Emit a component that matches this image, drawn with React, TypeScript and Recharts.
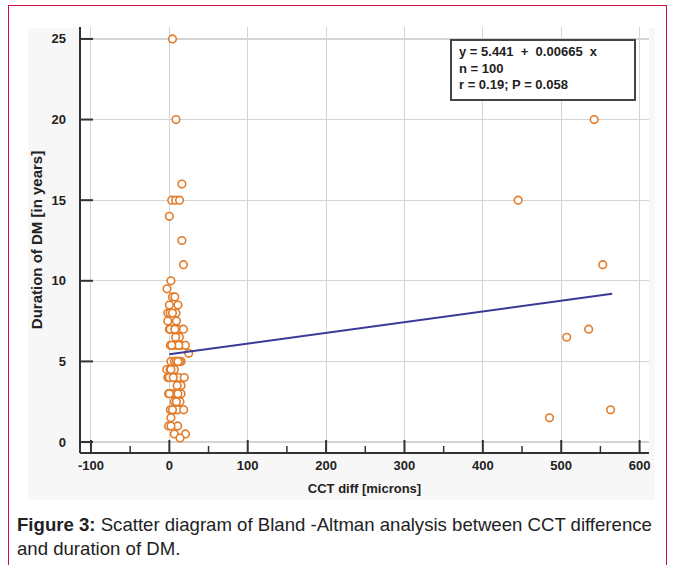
import React from 'react';
import { ScatterChart, Scatter, XAxis, YAxis, ReferenceLine } from 'recharts';

// CCT difference [microns] and duration of DM [years] for each subject
const cctDiff = [
  4, 8.5, 16, 3, 8, 13, 0, 16, 18, 2, -3,
  4, 7, 0, 11, -2, 1, 8.5, 4, -2, 9,
  0, 4, 11, 18, 1, 7, 12.8, 8,
  1.3, 6.4, 10.7, 15, 20.5, 12, 3, 24.7,
  2, 6.4, 15, 13, 9, 11, -3.3, 6.4, 1, 2,
  -2, 2, 8.5, 12, 19, 0, 5, 15, 10,
  -1, 3.4, 8.5, 15, 0, 11, 6.4, 13.6, 9,
  1.3, 7.7, 10.7, 18.3, 4, 2, -1, 10.7, 2,
  6.4, 20.5, 13.6,
  445, 542, 553, 535, 507, 485, 563,
];
const durationDM = [
  25, 20, 16, 15, 15, 15, 14, 12.5, 11, 10, 9.5,
  9, 9, 8.5, 8.5, 8, 8, 8, 8, 7.5, 7.5,
  7, 7, 7, 7, 7, 7, 6.5, 6.5,
  6, 6, 6, 6, 6, 6, 6, 5.5,
  5, 5, 5, 5, 5, 5, 4.5, 4.5, 4.5, 4.5,
  4, 4, 4, 4, 4, 4, 4, 3.5, 3.5,
  3, 3, 3, 3, 3, 3, 2.5, 2.5, 2.5,
  2, 2, 2, 2, 2, 1.5, 1, 1, 1,
  0.5, 0.5, 0.25,
  15, 20, 11, 7, 6.5, 1.5, 2,
];
// regression line end points (y = 5.441 + 0.00665 x)
const fitX = [0, 565];
const fitY = [5.441, 9.2];

const xTicks = [-100, -50, 0, 50, 100, 150, 200, 250, 300, 350, 400, 450, 500, 550, 600];
const xGridTicks = [-100, 0, 100, 200, 300, 400, 500, 600];
const yTicks = [0, 5, 10, 15, 20, 25];
const xDomain = [-114, 612];
const yDomain = [-0.68, 25.74];

const points = cctDiff.map((x, i) => ({ x, y: durationDM[i] }));
const fitLine = fitX.map((x, i) => ({ x, y: fitY[i] }));

const FONT = "'Liberation Sans', Arial, Helvetica, sans-serif";
const AXIS = '#333333';
const GRID = '#d4d4d4';
const X_MARGIN = 12;
const Y_MARGIN = 14;

const YTick = (props: any) => {
  const { x, y, payload } = props;
  const ax = x + Y_MARGIN;
  return (
    <g>
      <line x1={ax} y1={y} x2={ax + 13} y2={y} stroke={AXIS} strokeWidth={2} />
      <text x={x} y={y} textAnchor="end" dominantBaseline="central" fontFamily={FONT}
        fontWeight="bold" fontSize={13} fill="#222">{payload.value}</text>
    </g>
  );
};

const XTick = (props: any) => {
  const { x, y, payload } = props;
  const ay = y - X_MARGIN;
  const major = payload.value % 100 === 0;
  return (
    <g>
      <line x1={x} y1={ay} x2={x} y2={ay - (major ? 13 : 7)} stroke={AXIS} strokeWidth={major ? 2 : 1.5} />
      {major && (
        <text x={x} y={y} textAnchor="middle" dominantBaseline="central" fontFamily={FONT}
          fontWeight="bold" fontSize={13} fill="#222">{payload.value}</text>
      )}
    </g>
  );
};

const YLabel = (props: any) => {
  const vb = props.viewBox || {};
  const cx = vb.x + 6;
  const cy = vb.y + vb.height / 2;
  return (
    <text x={cx} y={cy} transform={`rotate(-90 ${cx} ${cy})`} textAnchor="middle"
      dominantBaseline="central" fontFamily={FONT} fontWeight="bold" fontSize={15} fill="#222">
      Duration of DM [in years]
    </text>
  );
};

const Ring = (props: any) => {
  const { cx, cy } = props;
  if (cx == null || cy == null) return <g />;
  return <circle cx={cx} cy={cy} r={3.8} fill="#ffffff" stroke="#e27c2a" strokeWidth={1.6} />;
};

export default function App() {
  return (
    <div style={{ position: 'absolute', left: 0, top: 0, width: 675, height: 565, overflow: 'hidden', background: '#fff' }}>
      <div style={{ position: 'absolute', left: 8, top: 5, width: 657, height: 620, border: '1.5px solid #c8123c' }} />
      <div style={{ position: 'absolute', left: 28, top: 28, width: 627, height: 472, background: '#f7f7f7' }} />
      <div style={{ position: 'absolute', left: 80, top: 27, width: 569, height: 426, background: '#ffffff' }} />
      <div style={{ position: 'absolute', left: 0, top: 0 }}>
        <ScatterChart width={675} height={565} margin={{ top: 27, right: 26, bottom: 70, left: 30 }}>
          {xGridTicks.map((v) => (
            <ReferenceLine key={'gx' + v} x={v} stroke={GRID} strokeWidth={1} shapeRendering="crispEdges" />
          ))}
          {yTicks.map((v) => (
            <ReferenceLine key={'gy' + v} y={v} stroke={GRID} strokeWidth={1.2} shapeRendering="crispEdges" />
          ))}
          <XAxis type="number" dataKey="x" domain={xDomain} ticks={xTicks} interval={0} allowDataOverflow
            height={42} tickSize={0} tickMargin={X_MARGIN} tick={<XTick />}
            axisLine={{ stroke: AXIS, strokeWidth: 2 }} tickLine={false}
            label={{ value: 'CCT diff [microns]', position: 'insideBottom', offset: 2, fontFamily: FONT, fontWeight: 'bold', fontSize: 13, fill: '#222' }} />
          <YAxis type="number" dataKey="y" domain={yDomain} ticks={yTicks} interval={0} allowDataOverflow
            width={50} tickSize={0} tickMargin={Y_MARGIN} tick={<YTick />}
            axisLine={{ stroke: AXIS, strokeWidth: 2 }} tickLine={false}
            label={<YLabel />} />
          <Scatter data={points} shape={<Ring />} isAnimationActive={false} />
          <Scatter data={fitLine} line={{ stroke: '#3a3a96', strokeWidth: 2 }} shape={() => <g />} isAnimationActive={false} />
        </ScatterChart>
      </div>
      <div style={{
        position: 'absolute', left: 450, top: 39, width: 175, height: 55, border: '2px solid #444',
        background: '#fff', fontFamily: FONT, fontWeight: 'bold', fontSize: 13, lineHeight: '16.5px',
        color: '#222', padding: '3px 0 0 7px', boxSizing: 'content-box', whiteSpace: 'pre',
      }}>
        <div>{'y = 5.441  +  0.00665  x'}</div>
        <div>{'n = 100'}</div>
        <div>{'r = 0.19; P = 0.058'}</div>
      </div>
      <div style={{
        position: 'absolute', left: 17, top: 513, width: 650, fontFamily: FONT, fontSize: 18.6,
        lineHeight: '24px', color: '#222', whiteSpace: 'nowrap',
      }}>
        <b>Figure 3:</b> Scatter diagram of Bland -Altman analysis between CCT difference<br />and duration of DM.
      </div>
    </div>
  );
}
